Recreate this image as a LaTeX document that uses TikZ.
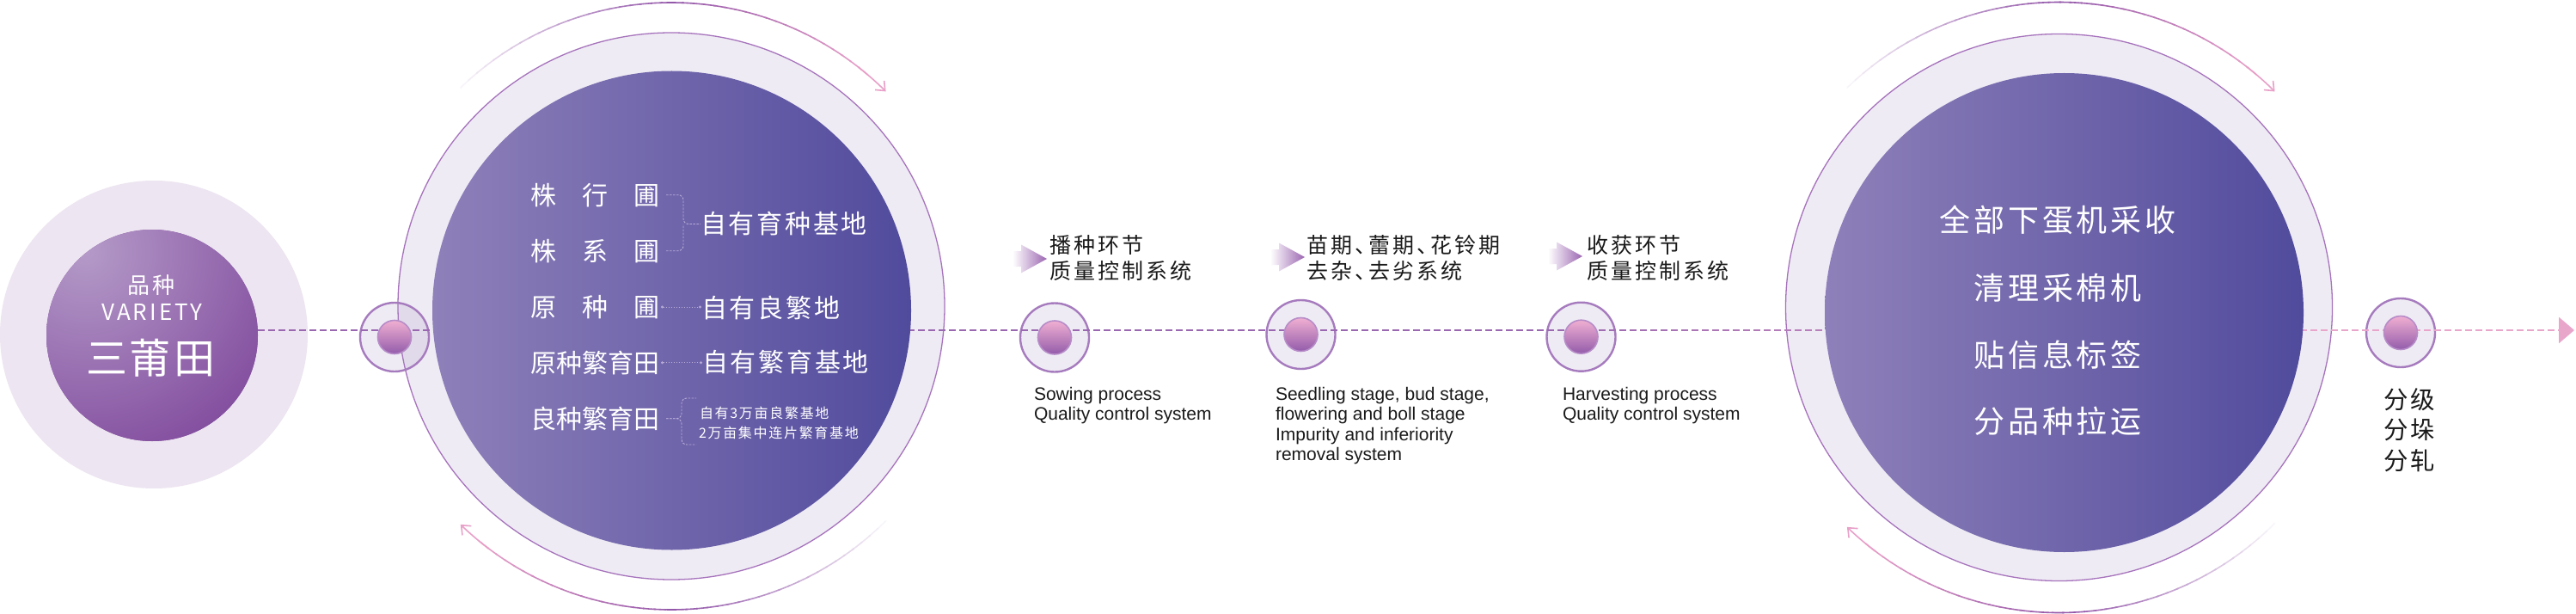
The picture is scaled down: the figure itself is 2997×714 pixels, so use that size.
\documentclass[tikz,border=0pt]{standalone}
\usepackage{fontspec}
\setmainfont{Noto Sans CJK SC}
\newfontfamily\en{Liberation Sans}
\usetikzlibrary{calc,arrows.meta}
\makeatletter
\newcommand\trk[2]{\begingroup\def\trk@sep{}\@tfor\trk@c:=#2\do{\trk@sep\trk@c\def\trk@sep{\kern#1pt}}\endgroup}
\makeatother
\definecolor{ringfill}{HTML}{EFEBF4}
\definecolor{ringline}{HTML}{A673BC}
\definecolor{cAouter}{HTML}{EDE5F1}
\definecolor{darkL}{HTML}{8E80B9}
\definecolor{darkR}{HTML}{514B9D}
\definecolor{dashP}{HTML}{9A68B0}
\definecolor{dashK}{HTML}{E9A6CB}
\definecolor{arcF}{HTML}{F8F5FA}
\definecolor{arcP}{HTML}{9458AA}
\definecolor{arcK}{HTML}{E8A0C8}
\definecolor{nodefill}{RGB}{161,137,190}
\definecolor{nodeline}{HTML}{A67BBE}
\definecolor{dottop}{HTML}{F0AFD2}
\definecolor{dotbot}{HTML}{935CAA}
\definecolor{dotline}{HTML}{B68CC8}
\definecolor{bracec}{HTML}{B7ABD6}
\definecolor{hdrP}{HTML}{9B66B1}
\definecolor{vA}{HTML}{B49AC8}
\definecolor{vB}{HTML}{834E9F}
\definecolor{txtk}{HTML}{1A1A1A}
\tikzset{
  bigring/.style={circle, inner sep=0pt, outer sep=0pt, minimum size=#1, fill=ringfill, draw=ringline, line width=1.3pt},
  bigdark/.style={circle, inner sep=0pt, outer sep=0pt, minimum size=#1, left color=darkL, right color=darkR},
  pring/.style={circle, inner sep=0pt, outer sep=0pt, minimum size=80pt, fill=nodefill, fill opacity=0.17, draw=nodeline, draw opacity=1, line width=2.4pt},
  pdot/.style={circle, inner sep=0pt, outer sep=0pt, minimum size=39pt, top color=dottop, bottom color=dotbot, draw=dotline, line width=1.6pt},
  dashline/.style={line width=2.8pt, dash pattern=on 8pt off 4pt},
  arcline/.style={line width=1.6pt},
  wt/.style={text=white, inner sep=0pt, outer sep=0pt},
  rowtxt/.style={wt, anchor=west, font=\fontsize{30}{36}\selectfont},
  smalltxt/.style={wt, anchor=west, font=\fontsize{16}{20}\selectfont},
  hdr/.style={text=txtk, inner sep=0pt, outer sep=0pt, anchor=west, font=\fontsize{25}{30}\selectfont},
  entxt/.style={text=txtk, inner sep=0pt, outer sep=0pt, anchor=base west, font=\en\fontsize{21}{25}\selectfont},
  lbl/.style={text=txtk, inner sep=0pt, outer sep=0pt, anchor=west, font=\fontsize{28.5}{34}\selectfont},
  bracel/.style={draw=bracec, line width=0.9pt, dash pattern=on 2.5pt off 1.5pt, rounded corners=6pt},
  dotl/.style={draw=bracec, line width=0.9pt, dash pattern=on 1.5pt off 1.5pt, {Circle[length=3pt]}-{Circle[length=3pt]}},
}
\begin{document}
\begin{tikzpicture}[x=1pt,y=-1pt]
\useasboundingbox (0,0) rectangle (2997,714);
\fill[white] (0,0) rectangle (2997,714);

% light discs
\node[circle, inner sep=0pt, outer sep=0pt, minimum size=358pt, fill=cAouter] (V0) at (179,389) {};
\node[bigring=636pt] (C2) at (781,356) {};
\node[bigring=636pt] (C3) at (2395.5,357.5) {};

% gradient arcs with arrows
\foreach \cx/\cy/\rr in {781/356/353, 2395.5/357.5/355} {
  \foreach \ss in {226,45} {
    \foreach \ii in {0,...,21} {
      \pgfmathsetmacro\pp{\ii*100/21}
      \draw[arcline, draw=arcP!\pp!arcF] ($(\cx,\cy)+(\ss+\ii*2:\rr)$) arc[start angle=\ss+\ii*2, delta angle=2.4, radius=\rr];
    }
    \foreach \ii in {0,...,19} {
      \pgfmathsetmacro\pp{\ii*100/19}
      \draw[arcline, draw=arcK!\pp!arcP] ($(\cx,\cy)+(\ss+44+\ii*2:\rr)$) arc[start angle=\ss+44+\ii*2, delta angle=2.4, radius=\rr];
    }
    \draw[arcline, draw=arcK, -{Straight Barb[length=9pt,width=15pt]}] ($(\cx,\cy)+(\ss+82:\rr)$) arc[start angle=\ss+82, end angle=\ss+89, radius=\rr];
  }
}

% small process nodes (rings)
\node[pring] (n1) at (459,392) {};
\node[pring] (n2) at (1227,392.5) {};
\node[pring] (n3) at (1513.5,389) {};
\node[pring] (n4) at (1839.5,391.7) {};
\node[pring] (n5) at (2793,387) {};

% main dashed line
\coordinate (L0) at (180,384);
\coordinate (Lm) at (1800,384);
\coordinate (Lk) at (2640,384);
\coordinate (Lend) at (2995,384);
\draw[dashline, draw=dashP] (L0) -- (Lm);
\foreach \ii in {0,...,34} {
  \pgfmathsetmacro\pp{(\ii+0.5)*100/35}
  \draw[dashline, draw=dashK!\pp!dashP] ($(Lm)+(\ii*24,0)$) -- ++(24,0);
}
\draw[dashline, draw=dashK, -{Triangle[length=18pt,width=30pt]}] (Lk) -- (Lend);

% dark discs
\node[circle, inner sep=0pt, outer sep=0pt, minimum size=246pt, fill=vB,
  path picture={\shade[inner color=vA, outer color=vB] ([xshift=-77pt,yshift=97pt]path picture bounding box.center) circle (250pt);}] (V) at (177,390) {};
\node[bigdark=557pt] (D2) at (781.5,361) {};
\node[bigdark=557pt] (D3) at (2401.5,363.5) {};

% dots
\node[pdot] (p1) at (n1) {};
\node[pdot] (p2) at (n2) {};
\node[pdot] (p3) at (n3) {};
\node[pdot] (p4) at (n4) {};
\node[pdot] (p5) at (n5) {};

% circle 1 text
\node[wt, font=\fontsize{26}{30}\selectfont] (va) at (176,331.5) {\trk{4}{品种}};
\node[wt, font=\fontsize{26}{30}\selectfont] (vb) at (177,362.5) {\trk{3}{VARIETY}};
\node[wt, font=\fontsize{48}{54}\selectfont] (vc) at (175,416.5) {\trk{3}{三莆田}};

% circle 2 text
\node[rowtxt] (r1) at (617,226.7) {株　行　圃};
\node[rowtxt] (r2) at (617,291.7) {株　系　圃};
\node[rowtxt] (r3) at (617,357) {原　种　圃};
\node[rowtxt] (r4) at (617,421.7) {原种繁育田};
\node[rowtxt] (r5) at (617,486.7) {良种繁育田};
\node[rowtxt] (s1) at (815,260.5) {\trk{2.8}{自有育种基地}};
\node[rowtxt] (s3) at (816,358) {\trk{2.8}{自有良繁地}};
\node[rowtxt] (s4) at (817,421) {\trk{2.8}{自有繁育基地}};
\node[smalltxt] (s5a) at (814,480) {\trk{1.7}{自有3万亩良繁基地}};
\node[smalltxt] (s5b) at (813,503) {\trk{1.7}{2万亩集中连片繁育基地}};

\draw[bracel] ([xshift=8pt]r1.east) -| ([xshift=-20pt]s1.west) -- (s1.west);
\draw[bracel] ([xshift=8pt]r2.east) -| ([xshift=-20pt]s1.west);
\draw[dotl] ([xshift=2pt]r3.east) -- (r3.east -| s3.west);
\draw[dotl] ([xshift=2pt]r4.east) -- (r4.east -| s4.west);
\coordinate (b5t) at (810,463);
\coordinate (b5b) at (810,517);
\draw[bracel] ([xshift=8pt]r5.east) -| ([xshift=-17pt]b5t) -- (b5t);
\draw[bracel] ([xshift=8pt]r5.east) -| ([xshift=-17pt]b5b) -- (b5b);

% circle 3 text
\node[wt, font=\fontsize{36}{40}\selectfont] (q1) at (2394,256) {\trk{3.8}{全部下蛋机采收}};
\node[wt, font=\fontsize{36}{40}\selectfont] (q2) at (2394,334.5) {\trk{3.8}{清理采棉机}};
\node[wt, font=\fontsize{36}{40}\selectfont] (q3) at (2394,412.5) {\trk{3.8}{贴信息标签}};
\node[wt, font=\fontsize{36}{40}\selectfont] (q4) at (2394,490) {\trk{3.8}{分品种拉运}};

% header arrows
\foreach \tx/\ty in {1218/301, 1518/299, 1841/298} {
  \shade[left color=white, right color=hdrP] (\tx-40,\ty-9) -- (\tx-30,\ty-9) -- (\tx-30,\ty-16.5) -- (\tx,\ty) -- (\tx-30,\ty+16.5) -- (\tx-30,\ty+9) -- (\tx-40,\ty+9) -- cycle;
}
\node[hdr] (h1a) at (1221,285) {\trk{3}{播种环节}};
\node[hdr] (h1b) at (1221,315) {\trk{3}{质量控制系统}};
\node[hdr] (h2a) at (1520,285) {\trk{3}{苗期{、\kern-12pt}蕾期{、\kern-12pt}花铃期}};
\node[hdr] (h2b) at (1520,315) {\trk{3}{去杂{、\kern-12pt}去劣系统}};
\node[hdr] (h3a) at (1846,285) {\trk{3}{收获环节}};
\node[hdr] (h3b) at (1846,315) {\trk{3}{质量控制系统}};

% english labels
\node[entxt] (e1a) at (1203,465) {Sowing process};
\node[entxt] (e1b) at (1203,488.5) {Quality control system};
\node[entxt] (e2a) at (1484,465) {Seedling stage, bud stage,};
\node[entxt] (e2b) at (1484,488.5) {flowering and boll stage};
\node[entxt] (e2c) at (1484,512) {Impurity and inferiority};
\node[entxt] (e2d) at (1484,535.5) {removal system};
\node[entxt] (e3a) at (1818,465) {Harvesting process};
\node[entxt] (e3b) at (1818,488.5) {Quality control system};

% final label
\node[lbl] (f1) at (2773,464.5) {\trk{3}{分级}};
\node[lbl] (f2) at (2773,499.5) {\trk{3}{分垛}};
\node[lbl] (f3) at (2773,536) {\trk{3}{分轧}};
\end{tikzpicture}
\end{document}
